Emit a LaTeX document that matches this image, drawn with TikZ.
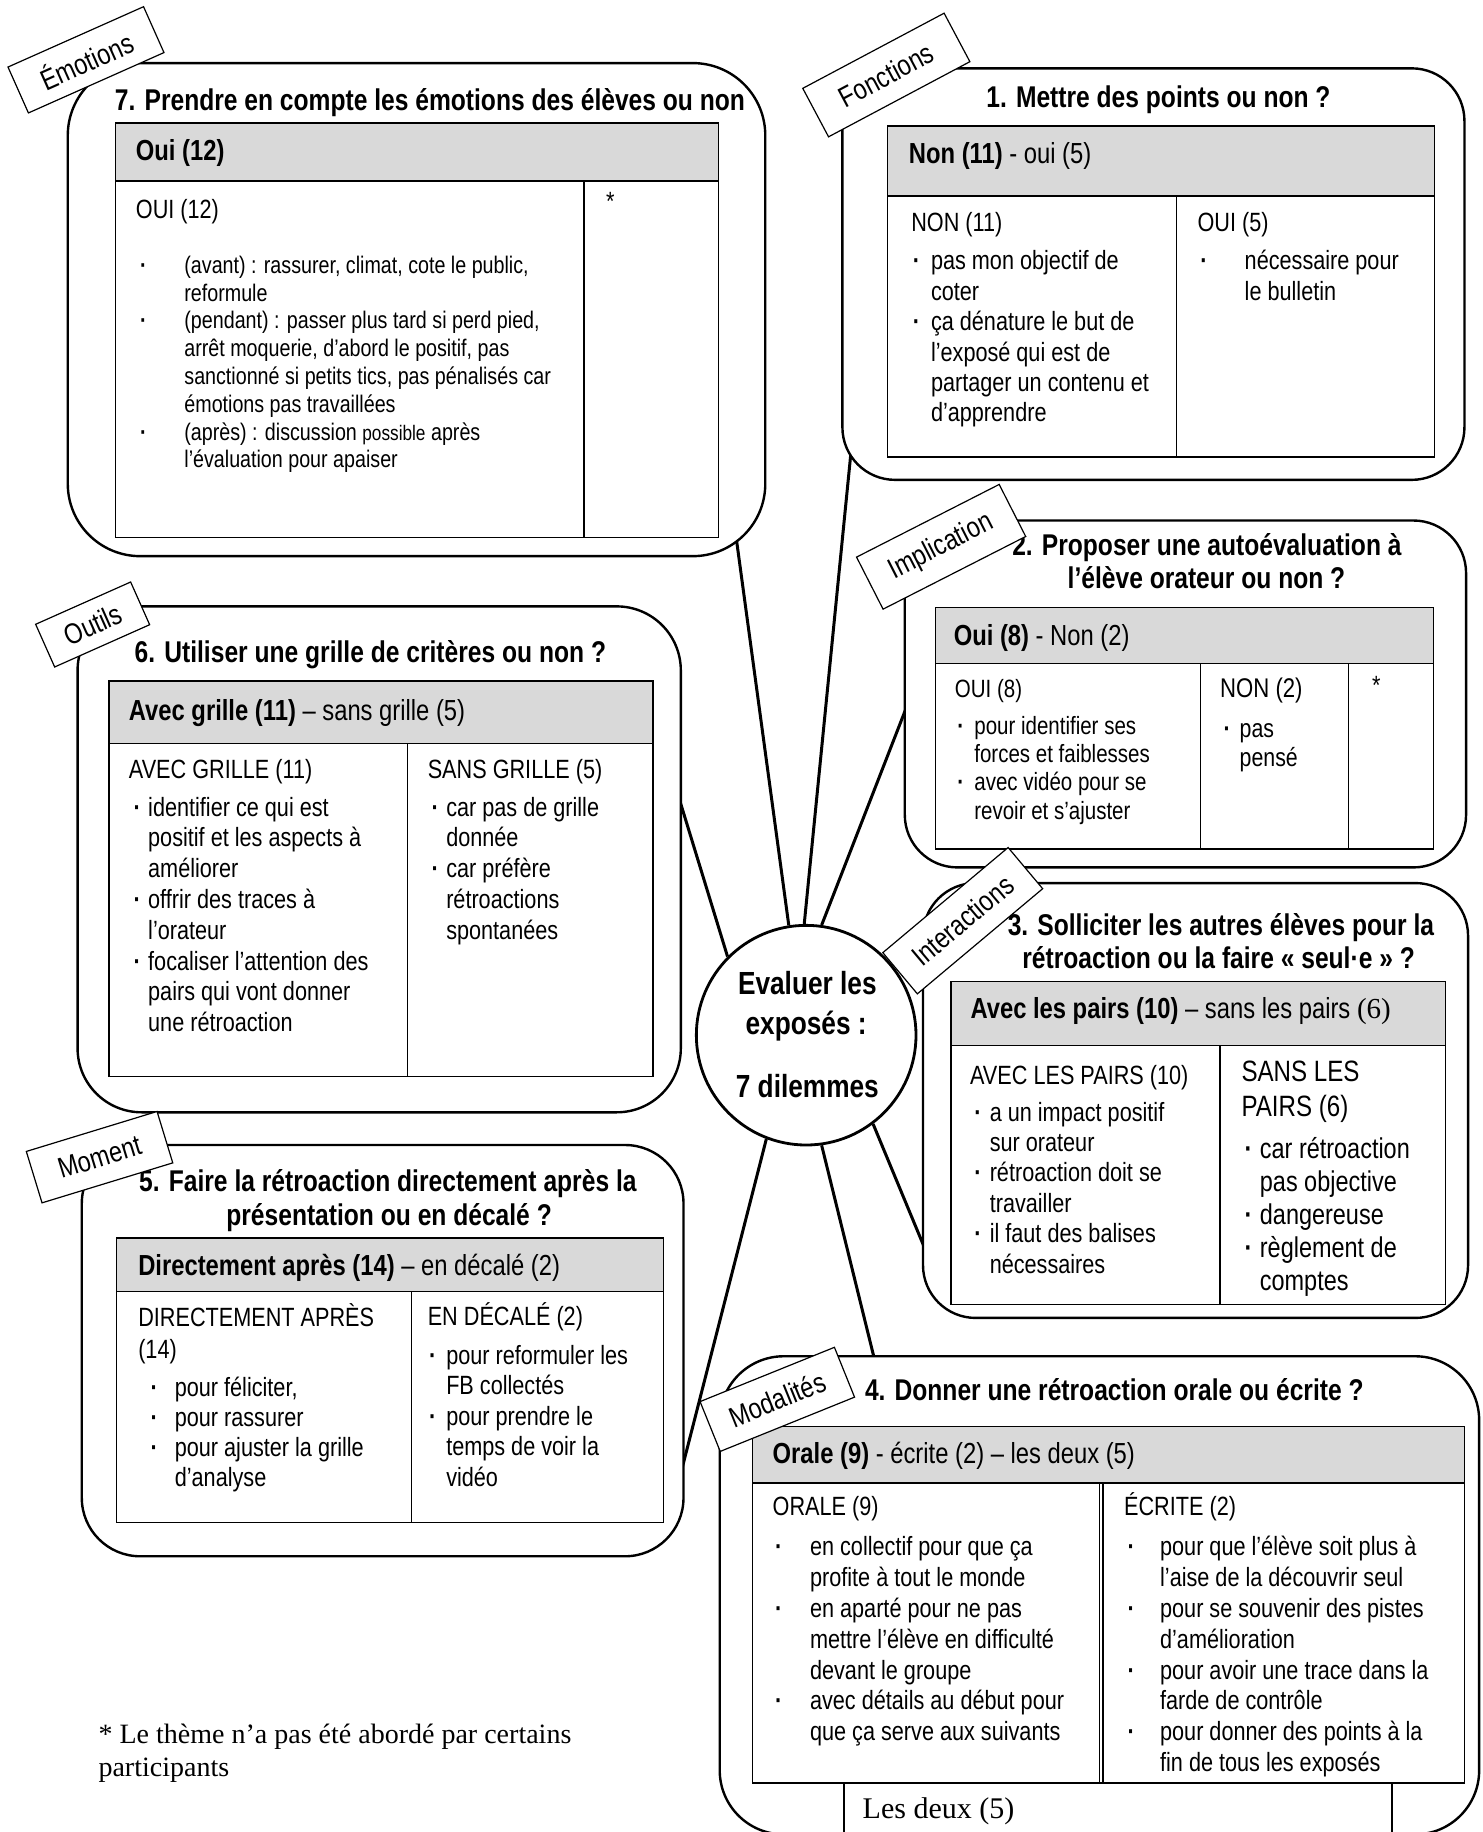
\documentclass[tikz,border=0pt]{standalone}
\usepackage{fontspec}
\setmainfont{Liberation Sans}[FakeStretch=0.82]
\newfontfamily\seriffont{Liberation Serif}
\usetikzlibrary{fit}
\newdimen\ud \ud=0.584pt
\newcommand{\fz}[2]{\fontsize{#1pt}{#2pt}\selectfont}
\newcommand{\bul}[1]{\strut\makebox[#1\ud][l]{\textbf{·}}}
\newcommand{\cnt}[1]{\strut\hspace*{#1\ud}}
\definecolor{hdgray}{HTML}{D9D9D9}
\tikzset{
 obox/.style={draw, line width=1.2pt, fill=white, inner sep=0pt},
 tbl/.style={draw, line width=0.7pt},
 link/.style={draw, line width=1.5pt},
 tag/.style={draw, fill=white, line width=0.6pt, inner sep=0pt, font=\fz{14.4}{16}},
 ttl/.style={anchor=base, inner sep=0pt, font=\fz{15}{17.2}\bfseries},
 ttlw/.style={anchor=base west, inner sep=0pt, font=\fz{15}{17.2}\bfseries},
 hd/.style={anchor=base west, inner sep=0pt, font=\fz{14.5}{17}},
 col/.style={anchor=base west, inner sep=0pt, font=\fz{13.2}{15.2}},
 txt/.style={anchor=north west, inner sep=0pt, align=left, font=\fz{13.2}{15.2}},
 ctxt/.style={anchor=base, inner sep=0pt, font=\fz{16}{19}\bfseries},
}
\begin{document}
\begin{tikzpicture}[x=0.584pt,y=-0.584pt]
\useasboundingbox (0,0) rectangle (1269,1568);
\fill[white] (0,0) rectangle (1269,1568);

% central circle
\node[draw, circle, line width=1.4pt, fill=white, minimum size=188\ud, inner sep=0pt] (ctr) at (690,886) {};

% connector ends (inside boxes)
\coordinate (e7) at (626,430);
\coordinate (e1) at (733,340);
\coordinate (e2) at (790,569);
\coordinate (e3) at (805,1101);
\coordinate (e4) at (755,1190);
\coordinate (e5) at (574,1295);
\coordinate (e6) at (575,663);
\draw[link] (ctr.99.8) -- (e7);
\draw[link] (ctr.91.8) -- (e1);
\draw[link] (ctr.82) -- (e2);
\draw[link] (ctr.-53.1) -- (e3);
\draw[link] (ctr.-82) -- (e4);
\draw[link] (ctr.-111.7) -- (e5);
\draw[link] (ctr.135.4) -- (e6);

% outer rounded boxes
\node[obox, rounded corners=36.2pt, fit={(58,54)(655,476)}] (b7) {};
\node[obox, rounded corners=26.3pt, fit={(721,58.5)(1253.4,410.7)}] (b1) {};
\node[obox, rounded corners=26.3pt, fit={(774.4,445.5)(1254.8,742.4)}] (b2) {};
\node[obox, rounded corners=26.3pt, fit={(790,755.8)(1256.5,1128)}] (b3) {};
\node[obox, rounded corners=32pt, fit={(616,1160.8)(1266,1570)}] (b4) {};
\node[obox, rounded corners=29.2pt, fit={(70,980)(585,1332)}] (b5) {};
\node[obox, rounded corners=32pt, fit={(66.4,519)(582.7,952)}] (b6) {};

% tables
% box 7
\draw[tbl, fill=hdgray] (98.7,105.4) rectangle (614.7,155);
\draw[tbl] (98.7,155) rectangle (614.7,460);
\draw[tbl] (500,155) -- (500,460);
% box 1
\draw[tbl, fill=hdgray] (759.6,107.8) rectangle (1228,167.7);
\draw[tbl] (759.6,167.7) rectangle (1228,391);
\draw[tbl] (1007,167.7) -- (1007,391);
% box 2
\draw[tbl, fill=hdgray] (800.7,519.7) rectangle (1226.9,568);
\draw[tbl] (800.7,568) rectangle (1226.9,726.7);
\draw[tbl] (1027.7,568) -- (1027.7,726.7);
\draw[tbl] (1154.3,568) -- (1154.3,726.7);
% box 3
\draw[tbl, fill=hdgray] (813.8,840) rectangle (1237.3,894.8);
\draw[tbl] (813.8,894.8) rectangle (1237.3,1116.7);
\draw[tbl] (1044.3,894.8) -- (1044.3,1116.7);
% box 4
\draw[tbl, fill=hdgray] (643.9,1220.7) rectangle (1253.6,1269.2);
\draw[tbl] (643.9,1269.2) rectangle (1253.6,1526);
\draw[tbl] (941,1269.2) -- (941,1526);
\draw[tbl] (944,1269.2) -- (944,1526);
\draw[tbl] (722.2,1580) -- (722.2,1526) -- (1191.5,1526) -- (1191.5,1580);
% box 5
\draw[tbl, fill=hdgray] (99.6,1059.6) rectangle (568,1105.2);
\draw[tbl] (99.6,1105.2) rectangle (568,1303);
\draw[tbl] (352,1105.2) -- (352,1303);
% box 6
\draw[tbl, fill=hdgray] (93.3,583) rectangle (559,636.6);
\draw[tbl] (93.3,636.6) rectangle (559,921.6);
\draw[tbl] (349,636.6) -- (349,921.6);

% ---- box 7 texts
\node[ttl] (t7) at (368,94.7) {7. Prendre en compte les émotions des élèves ou non};
\node[hd] (h7) at (116,137.5) {\textbf{Oui (12)}};
\node[col] (c7) at (116,187) {OUI (12)};
\node[col] (s7) at (518.5,180) {*};
\node[txt, font=\fz{12}{13.9}] (x7) at (119.5,216.9) {\bul{38}(avant) : rassurer, climat, cote le public,\\
\cnt{38}reformule\\
\bul{38}(pendant) : passer plus tard si perd pied,\\
\cnt{38}arrêt moquerie, d’abord le positif, pas\\
\cnt{38}sanctionné si petits tics, pas pénalisés car\\
\cnt{38}émotions pas travaillées\\
\bul{38}(après) : discussion {\fz{10.5}{13.9}possible} après\\
\cnt{38}l’évaluation pour apaiser};

% ---- box 1 texts
\node[ttl] (t1) at (991.5,91.6) {1. Mettre des points ou non ?};
\node[hd] (h1) at (777.6,140) {\textbf{Non (11)} - oui (5)};
\node[col] (c1a) at (779.6,197.8) {NON (11)};
\node[col] (c1b) at (1024.7,197.8) {OUI (5)};
\node[txt] (x1a) at (781,212.4) {\bul{15.5}pas mon objectif de\\
\cnt{15.5}coter\\
\bul{15.5}ça dénature le but de\\
\cnt{15.5}l’exposé qui est de\\
\cnt{15.5}partager un contenu et\\
\cnt{15.5}d’apprendre};
\node[txt] (x1b) at (1027,212.4) {\bul{38}nécessaire pour\\
\cnt{38}le bulletin};

% ---- box 2 texts
\node[ttl] (t2a) at (1033,475.3) {2. Proposer une autoévaluation à};
\node[ttl] (t2b) at (1032.6,503.9) {l’élève orateur ou non ?};
\node[hd] (h2) at (816,552.3) {\textbf{Oui (8)} - Non (2)};
\node[col, font=\fz{12.5}{14.2}] (c2a) at (817,596.8) {OUI (8)};
\node[col, font=\fz{13.5}{15}] (c2b) at (1044,597) {NON (2)};
\node[col] (s2) at (1174,594) {*};
\node[txt, font=\fz{12.5}{14.2}] (x2a) at (819,611) {\bul{14.6}pour identifier ses\\
\cnt{14.6}forces et faiblesses\\
\bul{14.6}avec vidéo pour se\\
\cnt{14.6}revoir et s’ajuster};
\node[txt, font=\fz{13}{14.5}] (x2b) at (1047,613.1) {\bul{13.7}pas\\
\cnt{13.7}pensé};

% ---- box 3 texts
\node[ttl] (t3a) at (1045,800.6) {3. Solliciter les autres élèves pour la};
\node[ttl] (t3b) at (1043,829) {rétroaction ou la faire « seul·e » ?};
\node[hd] (h3) at (830.3,871.7) {\textbf{Avec les pairs (10)} – sans les pairs {\seriffont(6)}};
\node[col] (c3a) at (830,928) {AVEC LES PAIRS (10)};
\node[txt, font=\fz{14.7}{17.5}] (c3b) at (1062.3,904.7) {\strut SANS LES\\\strut PAIRS (6)};
\node[txt] (x3a) at (833.6,941) {\bul{13.2}a un impact positif\\
\cnt{13.2}sur orateur\\
\bul{13.2}rétroaction doit se\\
\cnt{13.2}travailler\\
\bul{13.2}il faut des balises\\
\cnt{13.2}nécessaires};
\node[txt, font=\fz{14.3}{16.5}] (x3b) at (1065,971.3) {\bul{13}car rétroaction\\
\cnt{13}pas objective\\
\bul{13}dangereuse\\
\bul{13}règlement de\\
\cnt{13}comptes};

% ---- box 4 texts
\node[ttlw] (t4) at (740,1198.4) {4. Donner une rétroaction orale ou écrite ?};
\node[hd] (h4) at (661,1252.5) {\textbf{Orale (9)} - écrite (2) – les deux (5)};
\node[col] (c4a) at (661,1297.4) {ORALE (9)};
\node[col] (c4b) at (961.8,1297.4) {ÉCRITE (2)};
\node[txt, font=\fz{13.2}{15.4}] (x4a) at (663,1312.9) {\bul{30}en collectif pour que ça\\
\cnt{30}profite à tout le monde\\
\bul{30}en aparté pour ne pas\\
\cnt{30}mettre l’élève en difficulté\\
\cnt{30}devant le groupe\\
\bul{30}avec détails au début pour\\
\cnt{30}que ça serve aux suivants};
\node[txt, font=\fz{13.2}{15.4}] (x4b) at (964.8,1312.9) {\bul{27.8}pour que l’élève soit plus à\\
\cnt{27.8}l’aise de la découvrir seul\\
\bul{27.8}pour se souvenir des pistes\\
\cnt{27.8}d’amélioration\\
\bul{27.8}pour avoir une trace dans la\\
\cnt{27.8}farde de contrôle\\
\bul{27.8}pour donner des points à la\\
\cnt{27.8}fin de tous les exposés};
\node[anchor=base west, inner sep=0pt, font=\seriffont\fz{15}{17}] (ld) at (738,1556) {Les deux (5)};

% ---- box 5 texts
\node[ttl] (t5a) at (332,1019.6) {5. Faire la rétroaction directement après la};
\node[ttl] (t5b) at (333,1048.6) {présentation ou en décalé ?};
\node[hd] (h5) at (118,1091.3) {\textbf{Directement après (14)} – en décalé (2)};
\node[txt, font=\fz{13.2}{15.8}] (c5a) at (118,1115.7) {\strut DIRECTEMENT APRÈS\\\strut (14)};
\node[col] (c5b) at (365.8,1134.8) {EN DÉCALÉ (2)};
\node[txt, font=\fz{13.2}{15}] (x5a) at (128.6,1176.6) {\bul{20.7}pour féliciter,\\
\bul{20.7}pour rassurer\\
\bul{20.7}pour ajuster la grille\\
\cnt{20.7}d’analyse};
\node[txt] (x5b) at (367,1149.2) {\bul{14.6}pour reformuler les\\
\cnt{14.6}FB collectés\\
\bul{14.6}pour prendre le\\
\cnt{14.6}temps de voir la\\
\cnt{14.6}vidéo};

% ---- box 6 texts
\node[ttl] (t6) at (317,566.6) {6. Utiliser une grille de critères ou non ?};
\node[hd] (h6) at (110,616.5) {\textbf{Avec grille (11)} – sans grille (5)};
\node[col] (c6a) at (110,666.3) {AVEC GRILLE (11)};
\node[col] (c6b) at (365.8,666.3) {SANS GRILLE (5)};
\node[txt, font=\fz{13.2}{15.4}] (x6a) at (114,679.6) {\bul{12.5}identifier ce qui est\\
\cnt{12.5}positif et les aspects à\\
\cnt{12.5}améliorer\\
\bul{12.5}offrir des traces à\\
\cnt{12.5}l’orateur\\
\bul{12.5}focaliser l’attention des\\
\cnt{12.5}pairs qui vont donner\\
\cnt{12.5}une rétroaction};
\node[txt, font=\fz{13.2}{15.4}] (x6b) at (369,679.6) {\bul{12.6}car pas de grille\\
\cnt{12.6}donnée\\
\bul{12.6}car préfère\\
\cnt{12.6}rétroactions\\
\cnt{12.6}spontanées};

% ---- circle texts
\node[ctxt] (m1) at (691,851) {Evaluer les};
\node[ctxt] (m2) at (690,885) {exposés :};
\node[ctxt] (m3) at (691,939) {7 dilemmes};

% ---- footnote
\node[anchor=north west, inner sep=0pt, align=left, font=\seriffont\fz{14}{16.6}] (fn) at (84,1472) {\strut * Le thème n’a pas été abordé par certains\\\strut participants};

% ---- tags
\node[tag, minimum width=127\ud, minimum height=43\ud, rotate=24] (gE) at (73.6,51.2) {Émotions};
\node[tag, minimum width=137\ud, minimum height=47\ud, rotate=28] (gF) at (758.6,64.2) {Fonctions};
\node[tag, minimum width=137\ud, minimum height=50\ud, rotate=27] (gI) at (805.5,468) {Implication};
\node[tag, minimum width=140\ud, minimum height=46\ud, rotate=40] (gX) at (824,788) {Interactions};
\node[tag, minimum width=89\ud, minimum height=40\ud, rotate=24] (gO) at (79.3,534.5) {Outils};
\node[tag, minimum width=117\ud, minimum height=46\ud, rotate=17] (gM) at (85.2,990.4) {Moment};
\node[tag, minimum width=124\ud, minimum height=46\ud, rotate=22] (gD) at (665.3,1197.7) {Modalités};
\end{tikzpicture}
\end{document}
